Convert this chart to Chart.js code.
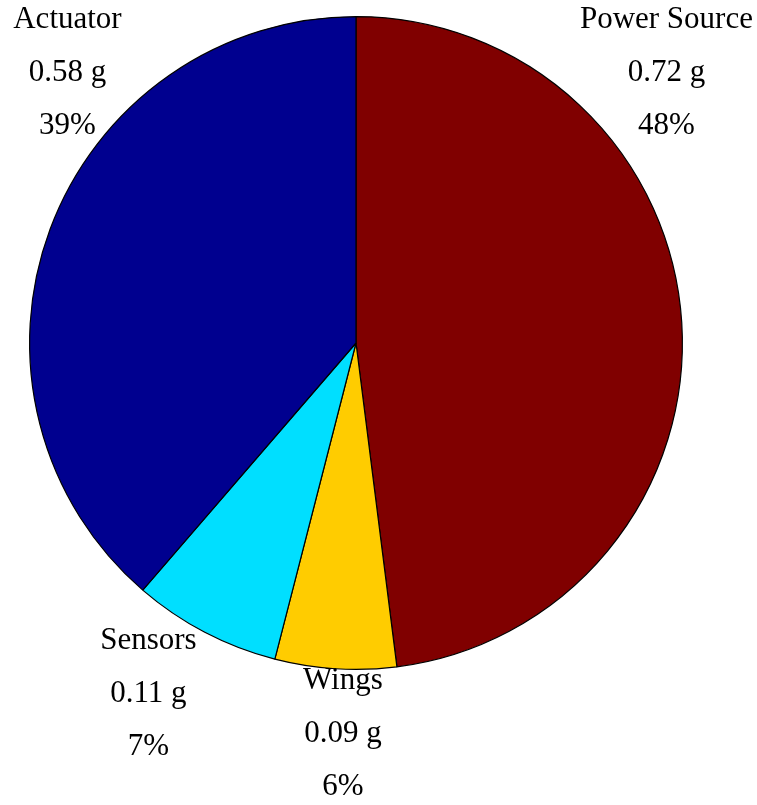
<!DOCTYPE html>
<html>
<head>
<meta charset="utf-8">
<script src="https://cdn.jsdelivr.net/npm/chart.js@4/dist/chart.umd.min.js"></script>
<style>
  html, body { margin: 0; padding: 0; background: #ffffff; }
  #wrap { width: 757px; height: 805px; position: relative; }
</style>
</head>
<body>
<div id="wrap"><canvas id="c" width="757" height="805"></canvas></div>
<script>
// Mass budget of the vehicle, in grams (clockwise from 12 o'clock)
const components = ['Power Source', 'Wings', 'Sensors', 'Actuator'];
const massGrams = [0.72, 0.09, 0.11, 0.58];
const sliceColors = ['#800000', '#FFCC00', '#00DFFF', '#00008F'];

// Label block anchors, expressed relative to pie centre in units of the radius
const labelAnchors = [
  [0.951, -0.829],
  [-0.040, 1.197],
  [-0.636, 1.076],
  [-0.884, -0.829]
];

const total = massGrams.reduce((a, b) => a + b, 0);

const sliceLabels = {
  id: 'sliceLabels',
  afterDatasetsDraw(chart) {
    const ctx = chart.ctx;
    const meta = chart.getDatasetMeta(0);
    const arc0 = meta.data[0];
    const cx = arc0.x, cy = arc0.y, r = arc0.outerRadius;
    const lineGap = 53;
    ctx.save();
    ctx.fillStyle = '#000000';
    ctx.font = '31px "Liberation Serif", "Times New Roman", serif';
    ctx.textAlign = 'center';
    ctx.textBaseline = 'middle';
    components.forEach((name, i) => {
      const v = massGrams[i];
      const pct = Math.round(v / total * 100) + '%';
      const x = cx + labelAnchors[i][0] * r;
      const y = cy + labelAnchors[i][1] * r;
      ctx.fillText(name, x, y - lineGap);
      ctx.fillText(v.toFixed(2) + ' g', x, y);
      ctx.fillText(pct, x, y + lineGap);
    });
    ctx.restore();
  }
};

new Chart(document.getElementById('c'), {
  type: 'pie',
  data: {
    labels: components,
    datasets: [{
      data: massGrams,
      backgroundColor: sliceColors,
      borderColor: '#000000',
      borderWidth: 1.2,
      borderAlign: 'center'
    }]
  },
  options: {
    responsive: false,
    animation: false,
    layout: { padding: { left: 29, right: 74, top: 16, bottom: 135 } },
    plugins: {
      legend: { display: false },
      tooltip: { enabled: false }
    }
  },
  plugins: [sliceLabels]
});
</script>
</body>
</html>
